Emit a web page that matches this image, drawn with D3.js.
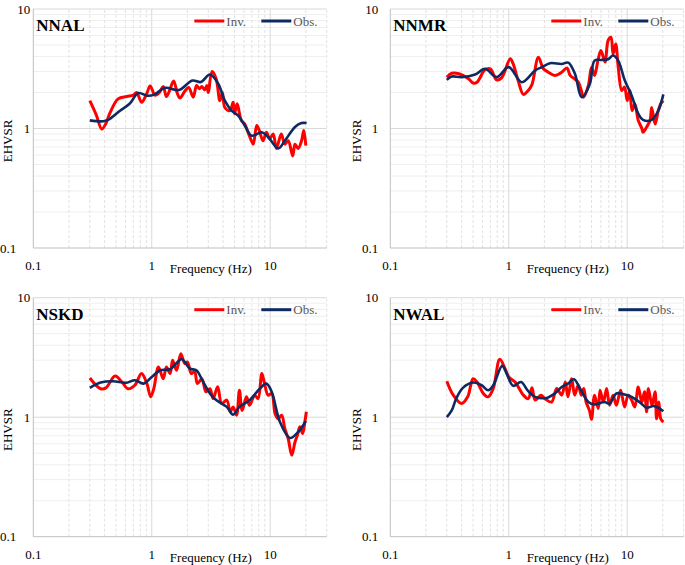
<!DOCTYPE html>
<html><head><meta charset="utf-8">
<script src="https://cdn.jsdelivr.net/npm/d3@7"></script>
<style>
body{margin:0;background:#fff}
svg{display:block}
text{font-family:"Liberation Serif","Times New Roman",serif}
</style>
</head><body>
<svg id="chart" width="685" height="565"></svg>
<script>
// ---------- data ----------
const stations = ["NNAL", "NNMR", "NSKD", "NWAL"];
const seriesNames = ["Inv.", "Obs."];
const xTickValues = [0.1, 1, 10];
const xTickLabels = ["0.1", "1", "10"];
const yTickValues = [0.1, 1, 10];
const yTickLabels = ["0.1", "1", "10"];
const xTitle = "Frequency (Hz)";
const yTitle = "EHVSR";

const nnalInv = [[0.3,1.71],[0.34,1.3],[0.378,0.99],[0.41,1.1],[0.444,1.35],[0.52,1.77],[0.613,1.85],[0.698,1.9],[0.745,2.0],[0.822,1.66],[0.905,1.95],[0.97,2.27],[1.065,1.9],[1.16,2.0],[1.25,2.25],[1.33,1.85],[1.42,2.1],[1.53,2.5],[1.65,1.95],[1.73,1.8],[1.9,2.05],[2.05,2.2],[2.24,1.83],[2.39,2.29],[2.52,2.15],[2.65,2.25],[2.8,2.1],[2.92,2.29],[3.0,2.0],[3.23,3.0],[3.5,2.6],[3.76,1.71],[3.95,2.0],[4.14,1.5],[4.56,1.41],[4.87,1.66],[5.0,1.33],[5.26,1.61],[5.7,1.17],[6.1,1.09],[6.5,0.93],[6.9,0.8],[7.2,0.74],[7.7,1.06],[8.1,0.96],[8.7,0.79],[9.3,0.93],[9.9,0.82],[10.6,0.9],[11.3,0.68],[12.4,0.9],[13.3,0.74],[14.2,0.79],[15.5,0.59],[16.2,0.74],[17.2,0.68],[18.4,0.79],[19.2,0.96],[20,0.72]];
const nnalObs = [[0.3,1.17],[0.39,1.15],[0.44,1.2],[0.54,1.41],[0.65,1.61],[0.77,1.98],[0.92,1.88],[1.05,1.92],[1.3,2.19],[1.7,2.1],[2.2,2.52],[2.6,2.45],[3.1,2.83],[3.64,2.37],[4.14,1.71],[4.72,1.41],[5.37,1.28],[6.1,1.06],[6.97,0.87],[8.46,0.93],[9.6,0.85],[11.7,0.68],[13.3,0.79],[16.2,1.03],[18.4,1.11],[20.3,1.11]];

const nnmrInv = [[0.3,2.69],[0.33,2.9],[0.38,2.87],[0.46,2.6],[0.5,2.4],[0.54,2.44],[0.63,3.1],[0.7,3.16],[0.79,2.55],[0.87,2.65],[1.03,3.83],[1.09,3.47],[1.2,2.52],[1.33,1.93],[1.46,2.08],[1.57,2.33],[1.78,3.95],[1.96,3.16],[2.16,2.96],[2.45,2.78],[2.8,2.96],[3.1,3.21],[3.3,2.78],[3.6,2.6],[3.86,2.44],[4.1,2.08],[4.27,1.83],[4.7,2.29],[5.0,3.26],[5.3,2.78],[5.66,3.7],[6.0,4.5],[6.5,3.6],[6.9,5.45],[7.3,5.8],[7.6,4.2],[8.0,5.1],[8.4,3.26],[9.0,2.08],[9.5,2.22],[10.0,1.71],[10.5,2.08],[11.0,1.41],[11.6,1.61],[12.4,1.17],[13.3,1.0],[13.6,0.93],[14.6,1.03],[15.6,1.17],[16.1,1.5],[17.2,1.09],[18.3,1.41],[19.2,1.61],[20.2,1.71]];
const nnmrObs = [[0.3,2.55],[0.33,2.72],[0.4,2.69],[0.52,2.83],[0.63,3.16],[0.79,2.69],[1.0,3.26],[1.29,2.44],[1.67,3.06],[1.9,3.26],[2.23,3.52],[2.8,3.47],[3.18,3.56],[3.62,2.87],[4.12,1.83],[4.84,2.36],[5.3,3.7],[6.08,3.75],[6.9,3.8],[7.6,4.08],[8.4,3.7],[9.55,2.52],[10.9,1.89],[12.4,1.33],[13.6,1.18],[16.1,1.18],[18.3,1.41],[20.2,1.93]];

const nskdInv = [[0.3,2.13],[0.37,1.73],[0.41,1.76],[0.49,2.21],[0.56,1.97],[0.63,1.73],[0.72,1.85],[0.82,2.32],[0.91,1.91],[0.98,1.48],[1.04,1.73],[1.14,2.63],[1.25,2.1],[1.33,2.63],[1.43,2.32],[1.5,2.99],[1.62,2.47],[1.76,3.4],[1.9,2.81],[2.0,2.9],[2.16,2.32],[2.3,2.42],[2.43,1.91],[2.65,2.1],[2.87,1.63],[3.1,1.73],[3.3,1.43],[3.6,1.8],[3.9,1.3],[4.3,1.39],[4.6,1.11],[4.87,1.22],[5.2,1.04],[5.5,1.68],[5.8,1.14],[6.3,1.48],[6.7,1.26],[7.4,1.53],[7.9,1.43],[8.5,2.32],[8.9,1.97],[9.6,1.53],[10.3,1.58],[11.0,1.07],[11.7,0.97],[12.5,1.04],[13.3,0.8],[14.2,0.66],[15.2,0.48],[16.2,0.62],[17.0,0.71],[17.8,0.83],[18.8,0.73],[19.6,0.91],[20.2,1.11]];
const nskdObs = [[0.3,1.76],[0.37,1.95],[0.47,2.0],[0.61,1.94],[0.72,2.04],[0.85,1.91],[1.0,2.17],[1.18,2.47],[1.43,2.52],[1.79,3.05],[2.1,2.55],[2.38,2.47],[2.72,1.97],[3.1,1.58],[3.5,1.39],[4.3,1.22],[4.87,1.05],[5.5,1.22],[6.7,1.39],[8.2,1.74],[9.3,1.91],[10.3,1.63],[12.1,0.91],[14.7,0.67],[17.2,0.75],[20,0.93]];

const nwalInv = [[0.3,2.0],[0.34,1.53],[0.4,1.3],[0.45,1.48],[0.5,2.1],[0.54,1.97],[0.61,1.58],[0.67,1.48],[0.74,1.74],[0.84,3.05],[0.93,2.55],[1.0,2.17],[1.13,1.97],[1.33,1.53],[1.46,1.43],[1.57,1.76],[1.67,1.39],[1.87,1.53],[2.02,1.43],[2.3,1.34],[2.54,1.74],[2.8,1.53],[3.0,1.97],[3.16,1.48],[3.4,2.1],[3.6,1.53],[3.86,1.85],[4.1,1.53],[4.3,1.74],[4.5,1.34],[4.8,1.14],[5.0,0.96],[5.3,1.53],[5.7,1.18],[5.9,1.68],[6.3,1.34],[6.7,1.74],[7.1,1.26],[7.6,1.53],[8.1,1.26],[8.8,1.68],[9.5,1.22],[10.2,1.53],[10.9,1.39],[11.6,1.22],[12.4,1.79],[13.3,1.34],[14.0,1.63],[14.6,1.11],[15.1,1.74],[16.2,1.26],[17.2,1.63],[17.7,0.97],[18.5,1.34],[19.2,0.97],[20.2,0.91]];
const nwalObs = [[0.3,1.0],[0.33,1.14],[0.36,1.43],[0.41,1.76],[0.5,1.95],[0.59,1.85],[0.67,1.68],[0.74,1.85],[0.88,2.69],[0.96,2.32],[1.09,1.83],[1.27,1.97],[1.46,1.65],[1.67,1.48],[2.08,1.45],[2.45,1.58],[2.8,1.79],[3.16,1.91],[3.55,2.08],[4.0,1.74],[4.7,1.34],[5.3,1.28],[6.4,1.34],[7.1,1.3],[8.1,1.58],[9.5,1.55],[10.9,1.48],[12.8,1.33],[14.6,1.2],[16.6,1.24],[18.3,1.2],[20.2,1.12]];

const invSeries = [nnalInv, nnmrInv, nskdInv, nwalInv];
const obsSeries = [nnalObs, nnmrObs, nskdObs, nwalObs];

// ---------- layout ----------
const colInv = "#ff0000", colObs = "#0e2a62";
const panelW = 293.4, panelH = 239;
const layout = [
  {left:33.3, top:9, squeeze:true},
  {left:390.3, top:9, squeeze:false},
  {left:33.3, top:297.7, squeeze:true},
  {left:390.3, top:297.7, squeeze:false}
];

const svg = d3.select("#chart");

const minorX = [];
[0.1, 1, 10].forEach(d => { for (let k = 2; k <= 9; k++) { const v = +(k*d).toPrecision(3); if (v <= 30) minorX.push(v); } });
const minorY = [];
[0.1, 1].forEach(d => { for (let k = 2; k <= 9; k++) minorY.push(+(k*d).toPrecision(3)); });

stations.forEach((name, i) => {
  const L = layout[i];
  const x = d3.scaleLog().domain([0.1, 30]).range([L.left, L.left + panelW]);
  const y = d3.scaleLog().domain([0.1, 10]).range([L.top + panelH, L.top]);
  const g = svg.append("g");

  // minor horizontal gridlines
  g.selectAll(".mh").data(minorY).enter().append("line")
    .attr("x1", x(0.1)).attr("x2", x(30))
    .attr("y1", d => y(d)).attr("y2", d => y(d))
    .attr("stroke", "#efefef").attr("stroke-width", 1);
  // minor vertical gridlines (dashed)
  g.selectAll(".mv").data(minorX).enter().append("line")
    .attr("x1", d => x(d)).attr("x2", d => x(d))
    .attr("y1", y(0.1)).attr("y2", y(10))
    .attr("stroke", "#e2e2e2").attr("stroke-width", 1).attr("stroke-dasharray", "3,2");
  // major gridlines
  g.selectAll(".My").data([1, 10]).enter().append("line")
    .attr("x1", x(0.1)).attr("x2", x(30))
    .attr("y1", d => y(d)).attr("y2", d => y(d))
    .attr("stroke", "#d9d9d9").attr("stroke-width", 1);
  g.selectAll(".Mx").data([1, 10]).enter().append("line")
    .attr("x1", d => x(d)).attr("x2", d => x(d))
    .attr("y1", y(0.1)).attr("y2", y(10))
    .attr("stroke", "#d9d9d9").attr("stroke-width", 1);
  // axes lines
  g.append("line").attr("x1", x(0.1)).attr("x2", x(0.1)).attr("y1", y(0.1)).attr("y2", y(10))
    .attr("stroke", "#bfbfbf").attr("stroke-width", 1);
  g.append("line").attr("x1", x(0.1)).attr("x2", x(30)).attr("y1", y(0.1)).attr("y2", y(0.1))
    .attr("stroke", "#bfbfbf").attr("stroke-width", 1);

  // tick labels
  g.selectAll(".xt").data(xTickValues).enter().append("text")
    .attr("x", d => x(d)).attr("y", y(0.1) + 22)
    .attr("text-anchor", "middle").attr("font-size", 13).attr("fill", "#000")
    .text((d, j) => xTickLabels[j]);
  g.selectAll(".yt").data(yTickValues).enter().append("text")
    .attr("x", (d, j) => L.squeeze ? (j === 0 ? 0 : L.left - 3) : L.left - 12)
    .attr("y", d => y(d) + 4.5)
    .attr("text-anchor", (d, j) => (L.squeeze && j === 0) ? "start" : "end")
    .attr("font-size", 13).attr("fill", "#000")
    .text((d, j) => yTickLabels[j]);

  // axis titles
  g.append("text").attr("x", L.left + 177.5).attr("y", y(0.1) + 25)
    .attr("text-anchor", "middle").attr("font-size", 13).text(xTitle);
  const yx = L.squeeze ? 12 : L.left - 29;
  g.append("text").attr("transform", `translate(${yx},${L.top + 132}) rotate(-90)`)
    .attr("text-anchor", "middle").attr("font-size", 13).text(yTitle);

  // lines
  const line = d3.line().x(d => x(d[0])).y(d => y(d[1])).curve(d3.curveCatmullRom.alpha(0.5));
  g.append("path").datum(invSeries[i]).attr("d", line)
    .attr("fill", "none").attr("stroke", colInv).attr("stroke-width", 3).attr("stroke-linejoin", "round");
  g.append("path").datum(obsSeries[i]).attr("d", line)
    .attr("fill", "none").attr("stroke", colObs).attr("stroke-width", 2.6).attr("stroke-linejoin", "round");

  // station label
  g.append("text").attr("x", L.left + 3).attr("y", L.top + 22)
    .attr("font-size", 17).attr("font-weight", "bold").text(name);

  // legend
  const ly = L.top + 12;
  const legendCols = [colInv, colObs];
  const legendX = [161, 228];
  seriesNames.forEach((s, j) => {
    g.append("line").attr("x1", L.left + legendX[j]).attr("x2", L.left + legendX[j] + 30)
      .attr("y1", ly).attr("y2", ly).attr("stroke", legendCols[j]).attr("stroke-width", 3);
    g.append("text").attr("x", L.left + legendX[j] + 32).attr("y", ly + 4.5)
      .attr("font-size", 13).attr("fill", "#595959").text(s);
  });
});
</script>
</body></html>
